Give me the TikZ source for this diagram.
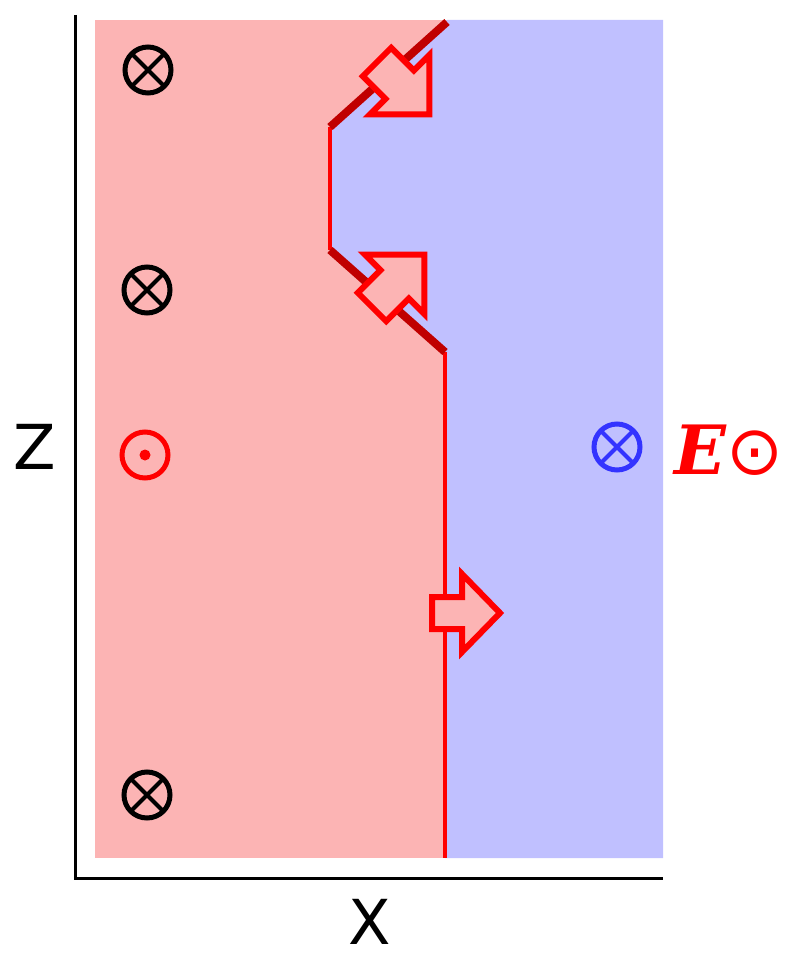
\documentclass[tikz,border=0pt]{standalone}
\usepackage{fontspec}
\setmainfont{DejaVu Sans}
\newfontfamily\eserif{DejaVu Serif}
\definecolor{rfill}{HTML}{FCB4B4}
\definecolor{bfill}{HTML}{C0C0FF}
\definecolor{dred}{HTML}{C00000}
\definecolor{bred}{HTML}{FF0000}
\definecolor{bblue}{HTML}{3333FF}
\begin{document}
\begin{tikzpicture}[x=1pt,y=-1pt,
  blockarrow/.style={draw=bred,fill=rfill,line width=6pt,line join=miter},
  otimes/.pic={\draw[line width=5pt] (0,0) circle (23); \draw[line width=4pt] (-16.3,-16.3)--(16.3,16.3) (-16.3,16.3)--(16.3,-16.3);},
  odot/.pic={\draw[line width=5pt] (0,0) circle (23); \fill (0,0) circle (5.5);}]
\useasboundingbox (0,0) rectangle (791,957);
\fill[rfill] (95,20) rectangle (663,858);
\fill[bfill] (447,20) -- (663,20) -- (663,858) -- (445,858) -- (445,352) -- (330,250) -- (330,127) -- cycle;
% boundary
\coordinate (b1) at (447,22); \coordinate (b2) at (330,127); \coordinate (b3) at (330,250);
\coordinate (b4) at (445,352); \coordinate (b5) at (445,858);
\draw[bred,line width=4.5pt] (b2)--(b3) (b4)--(b5);
\draw[dred,line width=8pt] (b1)--(b2) (b3)--(b4);
% axes
\coordinate (o) at (75,878);
\draw[line width=3pt] (75,15) -- (o) -- (663,878);
\node[font=\fontsize{62}{62}\selectfont] (zl) at (35,447) {Z};
\node[font=\fontsize{62}{62}\selectfont] (xl) at (370,922) {X};
% block arrows
\begin{scope}[shift={(377,62)},rotate=-45]
\draw[blockarrow] (0,-20)--(32,-20)--(32,-42)--(74,0)--(32,42)--(32,20)--(0,20)--cycle;
\end{scope}
\begin{scope}[shift={(372,307)},rotate=45]
\draw[blockarrow] (0,-20)--(32,-20)--(32,-42)--(74,0)--(32,42)--(32,20)--(0,20)--cycle;
\end{scope}
\begin{scope}[shift={(432,613)}]
\draw[blockarrow] (0,-16)--(30,-16)--(30,-39)--(68,0)--(30,39)--(30,16)--(0,16)--cycle;
\end{scope}
% symbols
\pic[black] at (148,70) {otimes};
\pic[black] at (147,290) {otimes};
\pic[black] at (147,795) {otimes};
\pic[bred] at (145,455) {odot};
\pic[bblue] at (617,447) {otimes};
\node[text=bred,font=\fontsize{68}{68}\selectfont,inner sep=0] (el) at (729,450) {{\eserif\bfseries\itshape E}⊙};
\end{tikzpicture}
\end{document}
